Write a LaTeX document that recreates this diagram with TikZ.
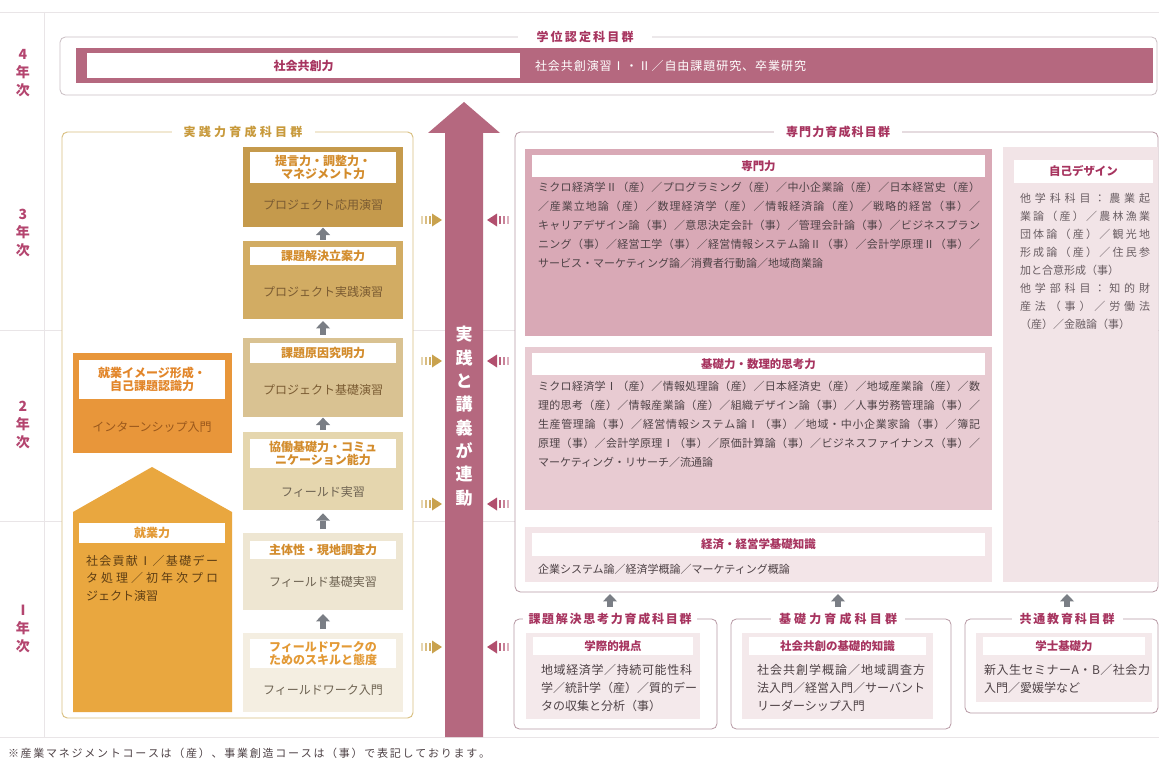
\documentclass[tikz,border=0pt]{standalone}
\usepackage{fontspec}
\setmainfont{Noto Sans CJK JP}
\usetikzlibrary{arrows.meta,fit,calc}
\newdimen\pxu \pxu=0.75pt
\newcommand\sx{\rule[-.12em]{0pt}{1em}}
\makeatletter
\def\jl#1#2{\leavevmode\sx\hbox to #1\pxu{\jl@aux#2\relax\unskip}}
\def\jl@aux#1{\ifx\relax#1\else#1\hskip0pt plus1fil\expandafter\jl@aux\fi}
\makeatother
\definecolor{pinkM}{HTML}{B5687F}
\definecolor{pinkD}{HTML}{A7345F}
\definecolor{pinkY}{HTML}{B4456F}
\definecolor{pinkS}{HTML}{D9A9B6}
\definecolor{pinkK}{HTML}{E8CBD2}
\definecolor{pinkL}{HTML}{F3E5E8}
\definecolor{pinkJ}{HTML}{F2E4E7}
\definecolor{pinkB}{HTML}{F4E9EB}
\definecolor{pinkF}{HTML}{B89AA5}
\definecolor{tickP}{HTML}{B24F6E}
\definecolor{txt}{HTML}{4E4246}
\definecolor{txtl}{HTML}{6A5E63}
\definecolor{grayA}{HTML}{7A7E85}
\definecolor{sepc}{HTML}{E9E5E7}
\definecolor{topf}{HTML}{CBBFC4}
\definecolor{goldF}{HTML}{D9BF80}
\definecolor{goldT}{HTML}{C89A3C}
\definecolor{gA}{HTML}{C59A4C}
\definecolor{gB}{HTML}{D2AC63}
\definecolor{gC}{HTML}{D9C292}
\definecolor{gD}{HTML}{E5D6AE}
\definecolor{gE}{HTML}{EEE6D2}
\definecolor{gF}{HTML}{F4EEE1}
\definecolor{gLab}{HTML}{D38C2C}
\definecolor{gTxt}{HTML}{7A5B32}
\definecolor{gTxt2}{HTML}{6E6352}
\definecolor{orG}{HTML}{E8963A}
\definecolor{orLab}{HTML}{E2862A}
\definecolor{orTxt}{HTML}{9A581C}
\definecolor{hs}{HTML}{E9A73F}
\definecolor{hsLab}{HTML}{E39A36}
\definecolor{hsTxt}{HTML}{5E3E14}
\definecolor{tickG}{HTML}{C9A24E}
\tikzset{
  every node/.style={inner sep=0pt,outer sep=0pt},
  sepline/.style={draw=sepc, line width=0.6pt},
  yr/.style={align=center, text=pinkY, font=\fontsize{10.5}{13.5}\bfseries\selectfont},
  ttl/.style={fill=white, inner xsep=#1, inner ysep=2pt, font=\fontsize{9}{11}\bfseries\selectfont},
  ttl/.default=8pt,
  glab/.style={align=center, text=gLab, font=\fontsize{9}{9.75}\bfseries\selectfont},
  gtxt/.style={font=\fontsize{9}{11}\selectfont},
  plab/.style={text=pinkD, font=\fontsize{8.6}{10}\bfseries\selectfont},
  txbody/.style={anchor=north west, align=left, text=txt, font=\fontsize{8.25}{14.25}\selectfont},
  txbot/.style={anchor=north west, align=left, text=txt, font=\fontsize{9}{13.5}\selectfont},
  gar/.style={draw=grayA, line width=4.2pt, -{Triangle[length=5.5pt,width=10.5pt,line width=0pt]}, shorten <=1pt, shorten >=0.5pt},
  frm/.style={draw=pinkF, line width=0.6pt, rounded corners=4pt, fill=white},
  wbox/.style={fill=white},
}
\begin{document}
\begin{tikzpicture}[x=0.75pt,y=-0.75pt]
\useasboundingbox (0,0) rectangle (1159,763);
\fill[white] (0,0) rectangle (1159,763);
% separators
\draw[sepline] (0,12) -- (1159,12);
\draw[sepline] (0,330) -- (1159,330);
\draw[sepline] (0,521) -- (1159,521);
\draw[sepline] (0,737) -- (1159,737);
\draw[sepline] (44,12) -- (44,737);
% year labels
\node[yr] (yr4) at (23,72) {\sx 4\\\sx 年\\\sx 次};
\node[yr] (yr3) at (23,232) {\sx 3\\\sx 年\\\sx 次};
\node[yr] (yr2) at (23,424) {\sx 2\\\sx 年\\\sx 次};
\node[yr] (yr1) at (23,628) {\sx I\\\sx 年\\\sx 次};
% degree group
\node[fit={(60,37)(1157,95)}, draw=topf, line width=0.6pt, rounded corners=4pt, fill=white] (degframe) {};
\node[fit={(76,48)(1153,83)}, fill=pinkM] (degbar) {};
\node[fit={(87,53)(520,78)}, wbox] (degcore) {};
\node[plab, font=\fontsize{9}{10}\bfseries\selectfont] (degcoret) at (degcore.center) {\sx 社会共創力};
\node[anchor=west, text=white, font=\fontsize{9}{11}\selectfont] (degcourses) at (535,66) {\jl{271}{社会共創演習Ⅰ・Ⅱ／自由課題研究、卒業研究}};
\node[ttl=14pt, text=pinkD] (degtitle) at (585,37) {\jl{97}{学位認定科目群}};
% big arrow
\fill[pinkM] (445,737) -- (445,133) -- (428,133) -- (464,102) -- (500,133) -- (483,133) -- (483,737) -- cycle;
\node[text=white, align=center, font=\fontsize{12.75}{17.5}\bfseries\selectfont] (linktext) at (464,416)
 {\sx 実\\\sx 践\\\sx と\\\sx 講\\\sx 義\\\sx が\\\sx 連\\\sx 動};
% small arrows
\foreach \yy in {220,361,504,647}{
  \foreach \xx/\op in {421/0.45,425/0.7,429/0.9}{\fill[tickG, opacity=\op] (\xx,\yy-4) rectangle ++(1.8,8);}
  \fill[tickG] (432,\yy-6.5) -- (442,\yy) -- (432,\yy+6.5) -- cycle;
  \fill[tickP] (497,\yy-6.5) -- (487,\yy) -- (497,\yy+6.5) -- cycle;
  \foreach \xx/\op in {499/0.9,503/0.7,507/0.45}{\fill[tickP, opacity=\op] (\xx,\yy-4) rectangle ++(1.8,8);}
}
% practical group
\node[fit={(62,132)(413,718)}, draw=goldF, line width=0.7pt, rounded corners=4pt, fill=white] (pracframe) {};
\node[ttl=9pt, text=goldT] (practitle) at (243,132) {\jl{119}{実践力育成科目群}};
% gold column
\node[fit={(243,147)(403,227)}, fill=gA] (bxA) {};
\node[fit={(250,152)(396,183)}, wbox] (lbA) {};
\node[glab] (lbAt) at (lbA.center) {\sx 提言力・調整力・\\\sx マネジメント力};
\node[gtxt, text=gTxt] (txA) at (323,205) {\sx プロジェクト応用演習};
\node[fit={(243,241)(403,319)}, fill=gB] (bxB) {};
\node[fit={(250,247)(396,265)}, wbox] (lbB) {};
\node[glab] (lbBt) at (lbB.center) {\sx 課題解決立案力};
\node[gtxt, text=gTxt] (txB) at (323,292) {\sx プロジェクト実践演習};
\node[fit={(243,338)(403,417)}, fill=gC] (bxC) {};
\node[fit={(250,343)(396,363)}, wbox] (lbC) {};
\node[glab] (lbCt) at (lbC.center) {\sx 課題原因究明力};
\node[gtxt, text=gTxt] (txC) at (323,390) {\sx プロジェクト基礎演習};
\node[fit={(243,432)(403,510)}, fill=gD] (bxD) {};
\node[fit={(250,439)(396,468)}, wbox] (lbD) {};
\node[glab] (lbDt) at (lbD.center) {\sx 協働基礎力・コミュ\\\sx ニケーション能力};
\node[gtxt, text=gTxt2] (txD) at (323,492) {\sx フィールド実習};
\node[fit={(243,533)(403,610)}, fill=gE] (bxE) {};
\node[fit={(250,541)(396,559)}, wbox] (lbE) {};
\node[glab] (lbEt) at (lbE.center) {\sx 主体性・現地調査力};
\node[gtxt, text=gTxt2] (txE) at (323,582) {\sx フィールド基礎実習};
\node[fit={(243,633)(403,712)}, fill=gF] (bxF) {};
\node[fit={(250,639)(396,668)}, wbox] (lbF) {};
\node[glab, text=hsLab] (lbFt) at (lbF.center) {\sx フィールドワークの\\\sx ためのスキルと態度};
\node[gtxt, text=gTxt2] (txF) at (323,690) {\sx フィールドワーク入門};
\draw[gar] (bxB.north) -- (bxA.south);
\draw[gar, shorten <=2.5pt, shorten >=1.5pt] (bxC.north) -- (bxB.south);
\draw[gar, shorten <=1.5pt, shorten >=0.5pt] (bxD.north) -- (bxC.south);
\draw[gar, shorten <=3pt, shorten >=2.5pt] (bxE.north) -- (bxD.south);
\draw[gar, shorten <=3pt, shorten >=3pt] (bxF.north) -- (bxE.south);
% orange column
\node[fit={(73,353)(232,453)}, fill=orG] (bxG) {};
\node[fit={(79,360)(225,399)}, wbox] (lbG) {};
\node[glab, text=orLab] (lbGt) at (lbG.center) {\sx 就業イメージ形成・\\\sx 自己課題認識力};
\node[gtxt, text=orTxt] (txG) at (152,427) {\sx インターンシップ入門};
\fill[hs] (73,712) -- (73,512) -- (152,467) -- (232,512) -- (232,712) -- cycle;
\node[fit={(79,523)(225,543)}, wbox] (lbH) {};
\node[glab, text=hsLab] (lbHt) at (lbH.center) {\sx 就業力};
\node[anchor=north west, align=left, text=hsTxt, font=\fontsize{9}{13}\selectfont] (txH) at (86,555)
 {\jl{132}{社会貢献Ⅰ／基礎デー}\\\jl{132}{タ処理／初年次プロ}\\\sx ジェクト演習};
% specialist group
\node[fit={(515,132)(1158,592)}, frm] (senframe) {};
\node[ttl=9pt, text=pinkD] (sentitle) at (838,132) {\jl{104}{専門力育成科目群}};
\node[fit={(525,149)(992,336)}, fill=pinkS] (bxSen) {};
\node[fit={(532,155)(985,177)}, wbox] (lbSen) {};
\node[plab] (lbSent) at (lbSen.center) {\sx 専門力};
\node[txbody] (txSen) at (538,181.5)
 {\jl{442}{ミクロ経済学Ⅱ（産）／プログラミング（産）／中小企業論（産）／日本経営史（産）}\\
  \jl{442}{／産業立地論（産）／数理経済学（産）／情報経済論（産）／戦略的経営（事）／}\\
  \jl{442}{キャリアデザイン論（事）／意思決定会計（事）／管理会計論（事）／ビジネスプラン}\\
  \jl{442}{ニング（事）／経営工学（事）／経営情報システム論Ⅱ（事）／会計学原理Ⅱ（事）／}\\
  \sx サービス・マーケティング論／消費者行動論／地域商業論};
\node[fit={(525,347)(992,510)}, fill=pinkK] (bxKiso) {};
\node[fit={(532,353)(985,375)}, wbox] (lbKiso) {};
\node[plab] (lbKisot) at (lbKiso.center) {\sx 基礎力・数理的思考力};
\node[txbody] (txKiso) at (538,380.5)
 {\jl{442}{ミクロ経済学Ⅰ（産）／情報処理論（産）／日本経済史（産）／地域産業論（産）／数}\\
  \jl{442}{理的思考（産）／情報産業論（産）／組織デザイン論（事）／人事労務管理論（事）／}\\
  \jl{442}{生産管理論（事）／経営情報システム論Ⅰ（事）／地域・中小企業家論（事）／簿記}\\
  \jl{442}{原理（事）／会計学原理Ⅰ（事）／原価計算論（事）／ビジネスファイナンス（事）／}\\
  \sx マーケティング・リサーチ／流通論};
\node[fit={(525,527)(992,582)}, fill=pinkL] (bxKei) {};
\node[fit={(532,533)(985,556)}, wbox] (lbKei) {};
\node[plab] (lbKeit) at (lbKei.center) {\sx 経済・経営学基礎知識};
\node[anchor=west, text=txt, font=\fontsize{8.25}{10}\selectfont] (txKei) at (538,569) {\sx 企業システム論／経済学概論／マーケティング概論};
\node[fit={(1003,147)(1158,582)}, fill=pinkJ] (bxJiko) {};
\node[fit={(1014,160)(1153,183)}, wbox] (lbJiko) {};
\node[plab] (lbJikot) at (lbJiko.center) {\sx 自己デザイン};
\node[txbody, text=txtl, font=\fontsize{8.25}{13.5}\selectfont] (txJiko) at (1020,192.5)
 {\jl{130}{他学科科目：農業起}\\\jl{130}{業論（産）／農林漁業}\\\jl{130}{団体論（産）／観光地}\\
  \jl{130}{形成論（産）／住民参}\\\sx 加と合意形成（事）\\\jl{130}{他学部科目：知的財}\\
  \jl{130}{産法（事）／労働法}\\\sx （産）／金融論（事）};
% bottom groups
\node[fit={(514,619)(717,729)}, frm] (frA) {};
\node[ttl=4pt, text=pinkD] (tA) at (610,619) {\jl{163}{課題解決思考力育成科目群}};
\node[fit={(526,633)(700,719)}, fill=pinkB] (inA) {};
\node[fit={(533,637)(693,655)}, wbox] (lbA2) {};
\node[plab] (lbA2t) at (lbA2.center) {\sx 学際的視点};
\node[txbot] (txA2) at (541,664)
 {\jl{151}{地域経済学／持続可能性科}\\\jl{151}{学／統計学（産）／質的デー}\\\sx タの収集と分析（事）};
\node[fit={(731,619)(951,729)}, frm] (frB) {};
\node[ttl=6pt, text=pinkD] (tB) at (838,619) {\jl{118}{基礎力育成科目群}};
\node[fit={(742,633)(933,719)}, fill=pinkB] (inB) {};
\node[fit={(749,637)(926,655)}, wbox] (lbB2) {};
\node[plab] (lbB2t) at (lbB2.center) {\sx 社会共創の基礎的知識};
\node[txbot] (txB2) at (757,664)
 {\jl{168}{社会共創学概論／地域調査方}\\\jl{168}{法入門／経営入門／サーバント}\\\sx リーダーシップ入門};
\node[fit={(965,619)(1158,713)}, frm] (frC) {};
\node[ttl=6pt, text=pinkD] (tC) at (1067,619) {\jl{95}{共通教育科目群}};
\node[fit={(976,633)(1152,702)}, fill=pinkB] (inC) {};
\node[fit={(983,637)(1145,655)}, wbox] (lbC2) {};
\node[plab] (lbC2t) at (lbC2.center) {\sx 学士基礎力};
\node[txbot] (txC2) at (984,664)
 {\jl{166}{新入生セミナーA・B／社会力}\\\sx 入門／愛媛学など};
\draw[gar, shorten <=2.5pt, shorten >=1.5pt] (tA.north) -- (tA.north |- senframe.south);
\draw[gar, shorten <=2.5pt, shorten >=1.5pt] (tB.north) -- (tB.north |- senframe.south);
\draw[gar, shorten <=2.5pt, shorten >=1.5pt] (tC.north) -- (tC.north |- senframe.south);
% footnote
\node[anchor=west, text=txt, font=\fontsize{8.25}{10}\selectfont] (note) at (8,753)
 {\jl{482}{※産業マネジメントコースは（産）、事業創造コースは（事）で表記しております。}};
\end{tikzpicture}
\end{document}
